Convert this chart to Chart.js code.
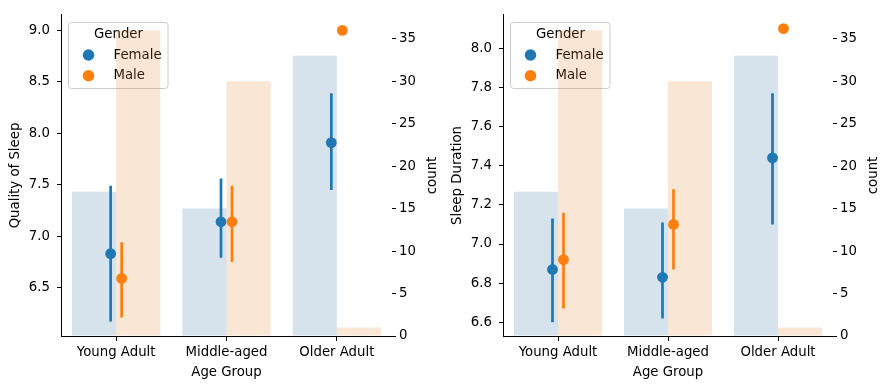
<!DOCTYPE html>
<html>
<head>
<meta charset="utf-8">
<script src="https://cdn.jsdelivr.net/npm/chart.js@4.4.1/dist/chart.umd.min.js"></script>
<style>
  html, body { margin: 0; padding: 0; background: #fff; }
  #wrap { width: 890px; height: 390px; display: flex; }
  canvas { display: block; }
</style>
</head>
<body>
<div id="wrap">
  <canvas id="quality" width="445" height="390"></canvas>
  <canvas id="duration" width="445" height="390"></canvas>
</div>
<script>
// categories
var ageGroups = ['Young Adult', 'Middle-aged', 'Older Adult'];
var genders = ['Female', 'Male'];

// count per group (right axis bars)
var countFemale = [17, 15, 33];
var countMale = [36, 30, 1];
var countTicks = [0, 5, 10, 15, 20, 25, 30, 35];

// Quality of Sleep: mean and 95% CI
var qualityFemale = [6.83, 7.14, 7.91];
var qualityFemaleLo = [6.17, 6.79, 7.45];
var qualityFemaleHi = [7.49, 7.56, 8.39];
var qualityMale = [6.59, 7.14, 9.0];
var qualityMaleLo = [6.21, 6.75, null];
var qualityMaleHi = [6.94, 7.49, null];
var qualityTicks = [6.5, 7.0, 7.5, 8.0, 8.5, 9.0];

// Sleep Duration: mean and 95% CI
var durationFemale = [6.87, 6.83, 7.44];
var durationFemaleLo = [6.60, 6.62, 7.10];
var durationFemaleHi = [7.13, 7.11, 7.77];
var durationMale = [6.92, 7.10, 8.10];
var durationMaleLo = [6.67, 6.87, null];
var durationMaleHi = [7.16, 7.28, null];
var durationTicks = [6.6, 6.8, 7.0, 7.2, 7.4, 7.6, 7.8, 8.0];

var pointColors = ['#1f77b4', '#ff7f0e'];
var barColors = ['rgba(50,115,161,0.2)', 'rgba(225,129,44,0.2)'];
var FONT = '"DejaVu Sans", "Liberation Sans", sans-serif';
var FSIZE = 13.3;
var DODGE = 0.05;

Chart.defaults.font.family = FONT;
Chart.defaults.font.size = FSIZE;
Chart.defaults.color = '#000';

// matplotlib-like legend box with title, drawn under the bars
var legendBox = {
  id: 'legendBox',
  beforeDatasetsDraw: function (chart) {
    var ctx = chart.ctx, a = chart.chartArea;
    var x = a.left + 7.5, y = a.top + 7.5, w = 99.5, h = 66;
    ctx.save();
    ctx.beginPath();
    ctx.roundRect(x, y, w, h, 3);
    ctx.fillStyle = 'rgba(255,255,255,0.8)';
    ctx.fill();
    ctx.strokeStyle = '#cccccc';
    ctx.lineWidth = 1;
    ctx.stroke();
    ctx.font = FSIZE + 'px ' + FONT;
    ctx.fillStyle = '#000';
    ctx.textAlign = 'center';
    ctx.textBaseline = 'alphabetic';
    ctx.fillText('Gender', x + 50, y + 15.8);
    genders.forEach(function (g, i) {
      ctx.beginPath();
      ctx.arc(x + 20, y + 32.5 + i * 20.7, 5.8, 0, Math.PI * 2);
      ctx.fillStyle = pointColors[i];
      ctx.fill();
      ctx.fillStyle = '#000';
      ctx.textAlign = 'left';
      ctx.fillText(g, x + 45, y + 36.2 + i * 20.6);
    });
    ctx.restore();
  }
};

// right axis label, rotated the same way as the left one
var countTitle = {
  id: 'countTitle',
  afterDraw: function (chart) {
    var ctx = chart.ctx, a = chart.chartArea;
    ctx.save();
    ctx.translate(a.right + 44, (a.top + a.bottom) / 2);
    ctx.rotate(-Math.PI / 2);
    ctx.font = FSIZE + 'px ' + FONT;
    ctx.fillStyle = '#000';
    ctx.textAlign = 'center';
    ctx.textBaseline = 'alphabetic';
    ctx.fillText('count', 0, 0);
    ctx.restore();
  }
};

function points(vals, dx) {
  return vals.map(function (v, i) { return {x: i + dx, y: v}; });
}

function ciSegments(lo, hi, dx) {
  var out = [];
  lo.forEach(function (v, i) {
    if (v === null || hi[i] === null) return;
    out.push({x: i + dx, y: v}, {x: i + dx, y: hi[i]}, {x: i + dx, y: null});
  });
  return out;
}

function fixedTicks(list) {
  return function (scale) {
    scale.ticks = list.map(function (v) { return {value: v}; });
  };
}

function makeChart(id, p) {
  var tickGrid = {display: true, drawOnChartArea: false, tickLength: 4, tickColor: '#000', tickWidth: 1};
  // one shared linear x axis (category index), so the dodged points and the grouped bars line up
  return new Chart(document.getElementById(id), {
    data: {
      datasets: [
        {type: 'bar', label: 'Female count', data: points(countFemale, 0), yAxisID: 'y1',
         backgroundColor: barColors[0], borderWidth: 0, categoryPercentage: 0.8, barPercentage: 1.0, order: 3},
        {type: 'bar', label: 'Male count', data: points(countMale, 0), yAxisID: 'y1',
         backgroundColor: barColors[1], borderWidth: 0, categoryPercentage: 0.8, barPercentage: 1.0, order: 3},
        {type: 'line', label: 'Female CI', data: ciSegments(p.fLo, p.fHi, -DODGE), yAxisID: 'y',
         borderColor: pointColors[0], borderWidth: 2.7, pointRadius: 0, spanGaps: false, borderCapStyle: 'butt', order: 2},
        {type: 'line', label: 'Male CI', data: ciSegments(p.mLo, p.mHi, DODGE), yAxisID: 'y',
         borderColor: pointColors[1], borderWidth: 2.7, pointRadius: 0, spanGaps: false, borderCapStyle: 'butt', order: 2},
        {type: 'line', label: 'Female', data: points(p.f, -DODGE), yAxisID: 'y', showLine: false,
         pointRadius: 5.4, pointBorderWidth: 0, pointBackgroundColor: pointColors[0], borderColor: pointColors[0], order: 1},
        {type: 'line', label: 'Male', data: points(p.m, DODGE), yAxisID: 'y', showLine: false,
         pointRadius: 5.4, pointBorderWidth: 0, pointBackgroundColor: pointColors[1], borderColor: pointColors[1], order: 1}
      ]
    },
    options: {
      indexAxis: 'x',
      responsive: false,
      animation: false,
      devicePixelRatio: 1,
      layout: {padding: {top: 10, left: 0, right: 0, bottom: 0}},
      plugins: {legend: {display: false}, tooltip: {enabled: false}},
      scales: {
        x: {
          type: 'linear', min: -0.5, max: 2.5, offset: false, bounds: 'data',
          grid: Object.assign({}, tickGrid, {tickLength: 5, offset: false}),
          border: {display: true, color: '#000', width: 1},
          ticks: {padding: 4, maxRotation: 0, callback: function (v) { return ageGroups[v]; }},
          afterBuildTicks: fixedTicks(ageGroups.map(function (g, i) { return i; })),
          title: {display: true, text: 'Age Group', padding: {top: 0, bottom: 9}},
          afterFit: function (s) { s.height = 54; }
        },
        y: {
          type: 'linear', position: 'left', min: p.min, max: p.max,
          grid: tickGrid,
          border: {display: true, color: '#000', width: 1},
          ticks: {padding: 7, callback: function (v) { return Number(v).toFixed(1); }},
          afterBuildTicks: fixedTicks(p.ticks),
          title: {display: true, text: p.title, padding: {top: p.titlePad, bottom: 0}},
          afterFit: function (s) { s.width = p.leftW; }
        },
        y1: {
          type: 'linear', position: 'right', min: 0, max: 37.8,
          grid: tickGrid,
          border: {display: false},
          ticks: {padding: 3},
          afterBuildTicks: fixedTicks(countTicks),
          afterFit: function (s) { s.width = p.rightW; }
        }
      }
    },
    plugins: [legendBox, countTitle]
  });
}

makeChart('quality', {
  title: 'Quality of Sleep', min: 6.03, max: 9.15, ticks: qualityTicks,
  f: qualityFemale, fLo: qualityFemaleLo, fHi: qualityFemaleHi,
  m: qualityMale, mLo: qualityMaleLo, mHi: qualityMaleHi,
  leftW: 61, rightW: 53, titlePad: 8
});

makeChart('duration', {
  title: 'Sleep Duration', min: 6.53, max: 8.17, ticks: durationTicks,
  f: durationFemale, fLo: durationFemaleLo, fHi: durationFemaleHi,
  m: durationMale, mLo: durationMaleLo, mHi: durationMaleHi,
  leftW: 58, rightW: 57, titlePad: 5
});
</script>
</body>
</html>
